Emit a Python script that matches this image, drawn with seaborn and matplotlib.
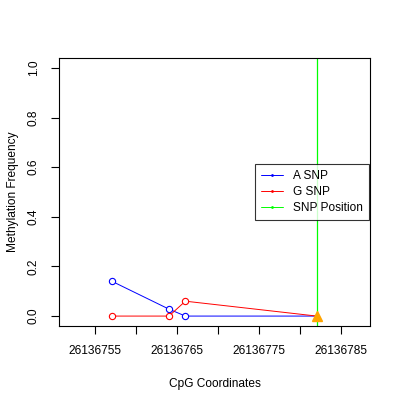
import matplotlib
matplotlib.use("Agg")
import matplotlib.pyplot as plt
import seaborn as sns
import pandas as pd
from matplotlib.lines import Line2D

coords = [26136757, 26136764, 26136766, 26136782]
a_snp = [0.141, 0.028, 0.0, 0.0]
g_snp = [0.0, 0.0, 0.06, 0.0]
snp_position = 26136782
x_ticks = [26136755, 26136760, 26136765, 26136770, 26136775, 26136780, 26136785]
x_labels = ["26136755", "", "26136765", "", "26136775", "", "26136785"]
y_ticks = [0.0, 0.2, 0.4, 0.6, 0.8, 1.0]

sns.set_style("white")
plt.rcParams['font.family'] = ['Liberation Sans', 'DejaVu Sans']
plt.rcParams.update({"text.color": "black", "axes.labelcolor": "black",
                     "xtick.color": "black", "ytick.color": "black"})
FS = 8.6

fig = plt.figure(figsize=(4, 4), dpi=100)
ax = fig.add_axes([0.1475, 0.185, 0.7775, 0.67])

df = pd.DataFrame({"x": coords * 2, "y": a_snp + g_snp,
                   "s": ["A SNP"] * 4 + ["G SNP"] * 4})
sns.lineplot(data=df, x="x", y="y", hue="s", palette={"A SNP": "#0000ff", "G SNP": "#ff0000"},
             lw=0.7, ax=ax, legend=False, estimator=None, sort=False)
ax.axvline(snp_position, color="#00ff00", lw=0.9)
ax.plot(coords[:3], a_snp[:3], "o", mfc="white", mec="#0000ff", ms=4.5, mew=0.8, ls="none")
ax.plot(coords[:3], g_snp[:3], "o", mfc="white", mec="#ff0000", ms=4.5, mew=0.8, ls="none")
ax.plot([snp_position], [0], "^", color="#ffa500", ms=7)

handles = [Line2D([], [], color="#0000ff", lw=0.7, marker=".", ms=2),
           Line2D([], [], color="#ff0000", lw=0.7, marker=".", ms=2),
           Line2D([], [], color="#00ff00", lw=0.7, marker=".", ms=2)]
leg = ax.legend(handles, ["A SNP", "G SNP", "SNP Position"], loc="upper left",
                bbox_to_anchor=(0.630, 0.6045), borderaxespad=0, fontsize=FS, frameon=True,
                fancybox=False, edgecolor="black", handlelength=1.85, borderpad=0.5,
                labelspacing=0.33, handletextpad=0.85)
leg.get_frame().set_linewidth(0.8)

ax.set_xlim(26136750.6, 26136788.5)
ax.set_ylim(-0.04, 1.04)
ax.set_xticks(x_ticks)
ax.set_xticklabels(x_labels, fontsize=FS)
ax.set_yticks(y_ticks)
ax.set_yticklabels([f"{v:.1f}" for v in y_ticks], fontsize=FS, rotation=90, va="center")
ax.tick_params(direction="out", length=6, width=0.8, color="black", labelcolor="black",
               bottom=True, left=True, pad=8)
for s in ax.spines.values():
    s.set_color("black")
    s.set_linewidth(0.8)
ax.set_xlabel("CpG Coordinates", fontsize=FS, labelpad=15, color="black")
ax.set_ylabel("Methylation Frequency", fontsize=FS, labelpad=6, color="black")

fig.savefig("out.png", dpi=100)
